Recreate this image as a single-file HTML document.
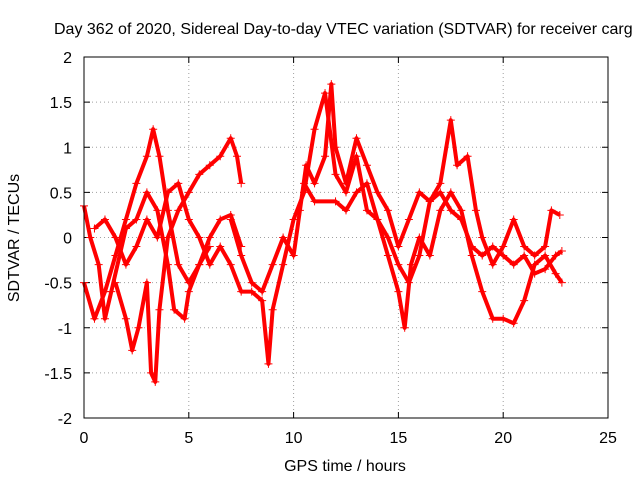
<!DOCTYPE html>
<html><head><meta charset="utf-8"><style>
body{margin:0;background:#fff;overflow:hidden;}
svg text{font-family:"Liberation Sans",sans-serif;font-size:16px;fill:#000;}
</style></head><body>
<svg id="chart" width="640" height="480" viewBox="0 0 640 480">
<rect width="640" height="480" fill="#fff"/>
<text x="54" y="34">Day 362 of 2020, Sidereal Day-to-day VTEC variation (SDTVAR) for receiver carg</text>
<text x="345" y="471" text-anchor="middle">GPS time / hours</text>
<text transform="translate(19,238) rotate(-90)" text-anchor="middle">SDTVAR / TECUs</text>
<g id="grid"></g>
<g id="series"></g>
<rect x="84" y="57" width="524" height="361" fill="none" stroke="#000" stroke-width="1"/>
</svg>
<script>
const xTicks=[0,5,10,15,20,25];
const yTicks=[-2,-1.5,-1,-0.5,0,0.5,1,1.5,2];
const track1=[[0,-0.5],[0.5,-0.9],[1,-0.6],[1.5,-0.2],[2,0.2],[2.5,0.6],[3,0.9],[3.3,1.2],[3.6,0.9],[4,0.3],[4.5,-0.3],[5,-0.5],[5.5,-0.3],[6,-0.1]];
const track2=[[0,0.35],[0.3,0],[0.7,-0.3],[1,-0.9],[1.3,-0.6],[2,0.1],[2.5,0.2],[3,0.5],[3.5,0.3],[4,-0.3],[4.3,-0.8],[4.8,-0.9],[5,-0.6],[5.5,-0.3],[6,0],[6.5,0.2],[7,0.25],[7.5,-0.1]];
const track3=[[1.5,-0.5],[2,-0.9],[2.3,-1.25],[2.6,-1],[3,-0.5],[3.2,-1.5],[3.4,-1.6],[3.6,-0.8],[4,0],[4.5,0.3],[5,0.5],[5.5,0.7],[6,0.8],[6.5,0.9],[7,1.1],[7.3,0.9],[7.5,0.6]];
const track4=[[0.5,0.1],[1,0.2],[1.5,0],[2,-0.3],[2.5,-0.1],[3,0.2],[3.5,0],[4,0.5],[4.5,0.6],[5,0.2],[5.5,0],[6,-0.3],[6.5,-0.1],[7,-0.3],[7.5,-0.6],[8,-0.6],[8.5,-0.7],[8.8,-1.4],[9,-0.8],[9.5,-0.3],[10,0.2],[10.5,0.5],[11,1.2],[11.5,1.6],[12,0.7],[12.5,0.5],[13,0.9],[13.5,0.3],[14,0.2],[14.5,-0.2],[15,-0.6],[15.3,-1.0],[15.6,-0.3],[16,0],[16.5,-0.2],[17,0.3],[17.5,0.5],[18,0.3],[18.5,-0.2],[19,-0.6],[19.5,-0.9],[20,-0.9],[20.5,-0.95],[21,-0.7],[21.5,-0.3],[22,-0.2],[22.5,-0.4],[22.8,-0.5]];
const track5=[[7,0.2],[7.5,-0.2],[8,-0.5],[8.5,-0.6],[9,-0.3],[9.5,0],[10,-0.2],[10.3,0.3],[10.6,0.8],[11,0.6],[11.5,0.9],[11.8,1.7],[12,1.0],[12.5,0.6],[13,1.1],[13.5,0.8],[14,0.5],[14.5,0.3],[15,-0.1],[15.5,0.2],[16,0.5],[16.5,0.4],[17,0.6],[17.5,1.3],[17.8,0.8],[18.3,0.9],[18.7,0.3],[19,0],[19.5,-0.3],[20,-0.1],[20.5,0.2],[21,-0.1],[21.5,-0.2],[22,-0.1],[22.3,0.3],[22.7,0.25]];
const track6=[[10.5,0.6],[11,0.4],[12,0.4],[12.5,0.3],[13,0.5],[13.5,0.6],[14,0.2],[14.5,0],[15,-0.3],[15.5,-0.5],[16,-0.2],[16.5,0.4],[17,0.5],[17.5,0.3],[18,0.2],[18.5,-0.1],[19,-0.2],[19.5,-0.1],[20,-0.2],[20.5,-0.3],[21,-0.2],[21.5,-0.4],[22,-0.35],[22.5,-0.2],[22.8,-0.15]];
const tracks=[track1,track2,track3,track4,track5,track6];

const NS="http://www.w3.org/2000/svg";
const X0=84,X1=608,Y0=418,Y1=57;
function sx(t){return X0+(t-0)/(25-0)*(X1-X0);}
function sy(v){return Y0-(v+2)/4*(Y0-Y1);}
const grid=document.getElementById('grid');
xTicks.forEach(t=>{
  const x=sx(t);
  if(t>0&&t<25){const l=document.createElementNS(NS,'line');
  
  
  l.setAttribute('x1',x);l.setAttribute('x2',x);l.setAttribute('y1',Y1);l.setAttribute('y2',Y0);
  l.setAttribute('stroke','#a0a0a0');l.setAttribute('stroke-dasharray','1,3');grid.appendChild(l);}
  const tk=document.createElementNS(NS,'path');
  
  
  tk.setAttribute('d',`M${x},${Y0}v-6M${x},${Y1}v6`);tk.setAttribute('stroke','#000');grid.appendChild(tk);
  const tx=document.createElementNS(NS,'text');
  
  
  tx.setAttribute('x',x);tx.setAttribute('y',Y0+25);tx.setAttribute('text-anchor','middle');tx.textContent=t;grid.appendChild(tx);
});
yTicks.forEach(v=>{
  const y=sy(v);
  if(v>-2&&v<2){const l=document.createElementNS(NS,'line');
  
  
  l.setAttribute('x1',X0);l.setAttribute('x2',X1);l.setAttribute('y1',y);l.setAttribute('y2',y);
  l.setAttribute('stroke','#a0a0a0');l.setAttribute('stroke-dasharray','1,3');grid.appendChild(l);}
  const tk=document.createElementNS(NS,'path');
  
  
  tk.setAttribute('d',`M${X0},${y}h6M${X1},${y}h-6`);tk.setAttribute('stroke','#000');grid.appendChild(tk);
  const tx=document.createElementNS(NS,'text');
  
  
  tx.setAttribute('x',X0-12);tx.setAttribute('y',y+6);tx.setAttribute('text-anchor','end');tx.textContent=v;grid.appendChild(tx);
});
const series=document.getElementById('series');
tracks.forEach((tr,i)=>{
  const p=document.createElementNS(NS,'polyline');
  
  
  p.setAttribute('points',tr.map(d=>sx(d[0])+','+sy(d[1])).join(' '));
  p.setAttribute('fill','none');p.setAttribute('stroke','#ff0000');p.setAttribute('stroke-width','4');
  p.setAttribute('stroke-linejoin','round');
  series.appendChild(p);
  tr.forEach(d=>{
    const m=document.createElementNS(NS,'path');
    
    
    const x=sx(d[0]),y=sy(d[1]);
    m.setAttribute('d',`M${x-4},${y}h8M${x},${y-4}v8`);
    m.setAttribute('stroke','#ff0000');m.setAttribute('stroke-width','1');
    series.appendChild(m);
  });
});
</script>
</body></html>
